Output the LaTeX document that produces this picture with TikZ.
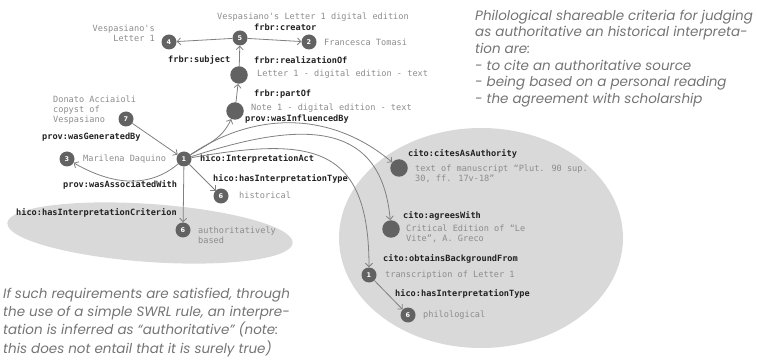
\documentclass[tikz,border=0pt]{standalone}
\usepackage{fontspec}
\usetikzlibrary{arrows.meta}
\newfontfamily\monof{DejaVu Sans Mono}
\newfontfamily\numf{DejaVu Sans}
\newfontfamily\notef{Poppins}

\definecolor{nodegray}{HTML}{626262}
\definecolor{zonegray}{HTML}{D9D9D9}
\definecolor{edgegray}{HTML}{808080}
\definecolor{valgray}{HTML}{8C8C8C}
\definecolor{relblack}{HTML}{222222}
\definecolor{notegray}{HTML}{747474}

\tikzset{
  num/.style={circle, fill=nodegray, text=white, inner sep=0pt, minimum size=15pt,
    font=\numf\bfseries\fontsize{6.5}{7}\selectfont},
  blob/.style={circle, fill=nodegray, inner sep=0pt, minimum size=17.5pt},
  rel/.style={anchor=west, inner sep=0pt, text=relblack,
    font=\monof\bfseries\fontsize{8.6}{10}\selectfont},
  val/.style={anchor=west, inner sep=0pt, text=valgray, align=left,
    font=\monof\fontsize{8.6}{10}\selectfont},
  link/.style={draw=edgegray, line width=0.8pt,
    -{Straight Barb[length=3.5pt,width=7pt]}},
  note/.style={anchor=north west, inner sep=0pt, text=notegray, align=left},
  zone/.style={fill=zonegray, draw=none},
}

\begin{document}
\begin{tikzpicture}[x=1pt, y=1pt]
\useasboundingbox (0,0) rectangle (757,-363);

% shaded groups
\fill[zone, rotate around={-4:(150,-233)}] (150,-233) ellipse [x radius=143, y radius=29];
\fill[zone] (481,-238) ellipse [x radius=142, y radius=110];

% resources
\node[num]  (n4)    at (169,-42)  {4};
\node[num]  (n5)    at (240,-38)  {5};
\node[num]  (n2)    at (309,-42)  {2};
\node[blob] (nlet)  at (239,-75)  {};
\node[blob] (nnote) at (235,-111) {};
\node[num]  (n7)    at (126,-119) {7};
\node[num]  (n3)    at (67,-159)  {3};
\node[num]  (n1)    at (184,-159) {1};
\node[num]  (n6h)   at (221,-196) {6};
\node[num]  (n6a)   at (183,-230) {6};
\node[blob] (ncite) at (399,-168) {};
\node[blob] (nagr)  at (391,-229) {};
\node[num]  (n1b)   at (369,-275) {1};
\node[num]  (n6p)   at (408,-315) {6};

% values
\node[val] (tdig)   at (217,-17)  {Vespasiano's Letter 1 digital edition};
\node[val, anchor=east, align=right] (tvesp) at (155,-33) {Vespasiano's\\Letter 1};
\node[val] (tfra)   at (324,-42)  {Francesca Tomasi};
\node[val] (tlet)   at (257,-74)  {Letter 1 - digital edition - text};
\node[val] (tnote)  at (251,-108) {Note 1 - digital edition - text};
\node[val] (tdon)   at (53,-110)  {Donato Acciaioli\\copyst of\\Vespasiano};
\node[val] (tmar)   at (83,-159)  {Marilena Daquino};
\node[val] (this)   at (239,-195) {historical};
\node[val] (taut)   at (198,-235) {authoritatively\\based};
\node[val] (tman)   at (415,-174) {text of manuscript “Plut. 90 sup.\\30, ff. 17v-18”};
\node[val] (tcri)   at (406,-234) {Critical Edition of “Le\\Vite”, A. Greco};
\node[val] (ttra)   at (385,-275) {transcription of Letter 1};
\node[val] (tphi)   at (423,-315) {philological};

% properties
\node[rel] (rcre)  at (254,-27)  {frbr:creator};
\node[rel] (rsub)  at (168,-60)  {frbr:subject};
\node[rel] (rrea)  at (254,-60)  {frbr:realizationOf};
\node[rel] (rpar)  at (254,-94)  {frbr:partOf};
\node[rel] (rinf)  at (245,-119) {prov:wasInfluencedBy};
\node[rel] (rgen)  at (42,-137)  {prov:wasGeneratedBy};
\node[rel] (ract)  at (200,-159) {hico:InterpretationAct};
\node[rel] (rtyp)  at (213,-179) {hico:hasInterpretationType};
\node[rel] (rass)  at (63,-185)  {prov:wasAssociatedWith};
\node[rel] (rcrit) at (16,-213)  {hico:hasInterpretationCriterion};
\node[rel] (rcit)  at (408,-154) {cito:citesAsAuthority};
\node[rel] (ragr)  at (403,-216) {cito:agreesWith};
\node[rel] (robt)  at (383,-259) {cito:obtainsBackgroundFrom};
\node[rel] (rtyp2) at (395,-294) {hico:hasInterpretationType};

% connectors
\draw[link] (n5) -- (n4);
\draw[link] (n5) -- (n2);
\draw[link] (nlet) -- (n5);
\draw[link] (nnote) -- (nlet);
\draw[link] (n1) to[out=32, in=245] (nnote);
\draw[link] (n7) -- (n1);
\draw[link] (n1) to[out=220, in=-30] (n3);
\draw[link] (n1) -- (n6h);
\draw[link] (n1) -- (n6a);
\draw[link] (n1) to[out=34, in=140] (ncite);
\draw[link] (n1) to[out=18, in=95, looseness=1.3] (nagr);
\draw[link] (n1) to[out=10, in=90, looseness=1.5] (n1b);
\draw[link] (n1b) -- (n6p);

% explanatory notes
\node[note, font=\notef\itshape\fontsize{13.5}{16.7}\selectfont] (crit) at (475,-9.5)
  {Philological shareable criteria for judging\\
   as authoritative an historical interpreta-\\
   tion are:\\
   - to cite an authoritative source\\
   - being based on a personal reading\\
   - the agreement with scholarship};
\node[note, font=\notef\itshape\fontsize{13.5}{18.4}\selectfont] (rule) at (3,-287.5)
  {If such requirements are satisfied, through\\
   the use of a simple SWRL rule, an interpre-\\
   tation is inferred as “authoritative” (note:\\
   this does not entail that it is surely true)};
\end{tikzpicture}
\end{document}
